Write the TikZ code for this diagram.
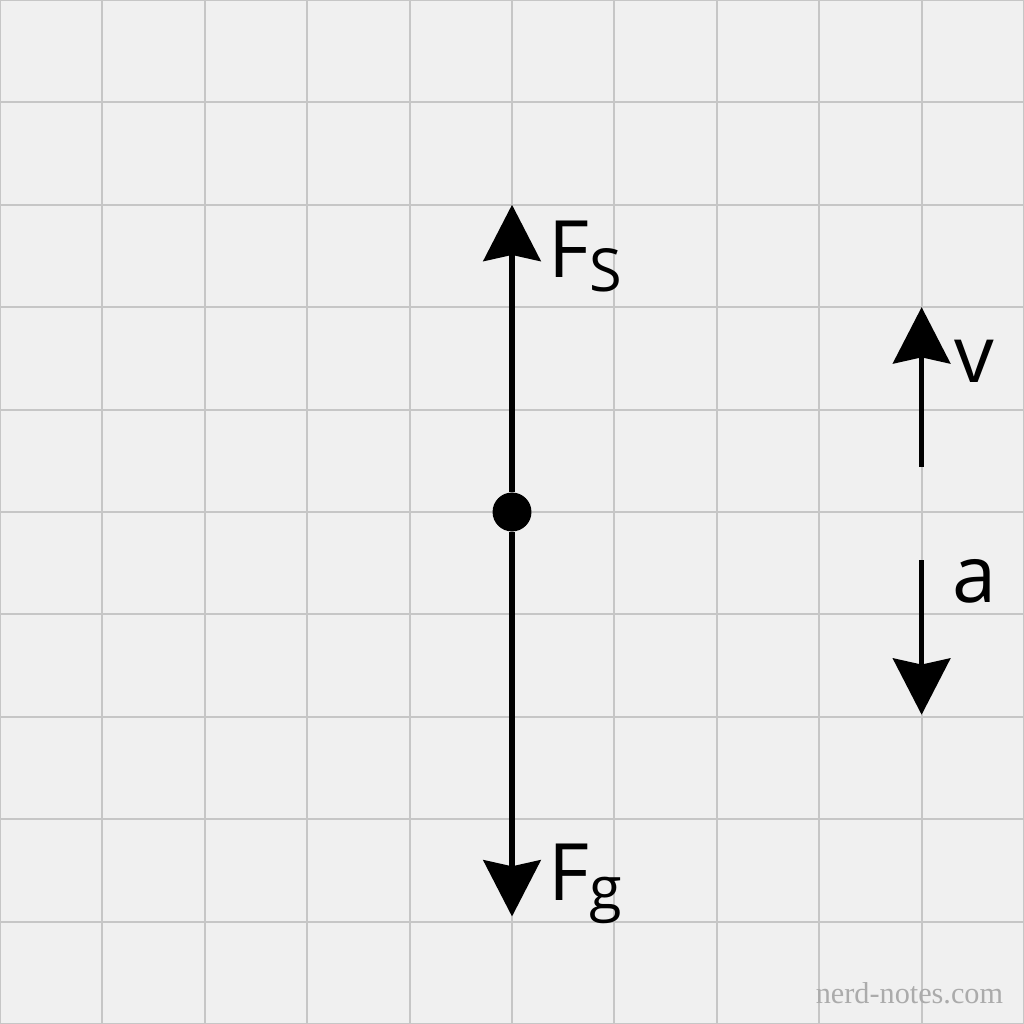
\documentclass[tikz,border=0pt]{standalone}
\usepackage{fontspec}
\setmainfont{Open Sans}
\newfontfamily\markfont{Liberation Serif}
\usetikzlibrary{arrows.meta}

\definecolor{paper}{HTML}{F0F0F0}
\definecolor{gridgray}{HTML}{C6C6C6}
\definecolor{markgray}{HTML}{ABABAB}

\begin{document}
\begin{tikzpicture}[
    force/.style={-{Stealth[length=5.5mm,width=5.6mm,inset=0.6mm]}, line width=1.4pt},
    lbl/.style={inner sep=0pt, anchor=base west, font=\fontsize{22}{22}\selectfont}]
  \useasboundingbox (0,0) rectangle (10,10);
  \fill[paper] (0,0) rectangle (10,10);
  \draw[gridgray, line width=0.6pt] (0,0) grid (10,10);

  % body and forces
  \node[circle, fill=black, minimum size=3.8mm, inner sep=0pt] (mass) at (5,5) {};
  \coordinate (fstip) at (5,8);
  \coordinate (fgtip) at (5,1.05);
  \draw[force] (mass) -- (fstip);
  \draw[force] (mass) -- (fgtip);
  \node[lbl] (fslabel) at (5.35,7.285) {F\raisebox{-3.8pt}{\fontsize{16.5}{16.5}\selectfont S}};
  \node[lbl] (fglabel) at (5.35,1.21) {F\raisebox{-2.5pt}{\fontsize{16.5}{16.5}\selectfont g}};

  % velocity and acceleration
  \coordinate (vtail) at (9,5.44);
  \coordinate (vtip) at (9,7.0);
  \coordinate (atail) at (9,4.53);
  \coordinate (atip) at (9,3.02);
  \draw[force] (vtail) -- (vtip);
  \draw[force] (atail) -- (atip);
  \node[lbl] (vlabel) at (9.31,6.26) {v};
  \node[lbl] (alabel) at (9.29,4.12) {a};

  \node[inner sep=0pt, anchor=base west, text=markgray, font=\markfont\fontsize{8.4}{8.4}\selectfont] (mark) at (7.96,0.2) {nerd-notes.com};
\end{tikzpicture}
\end{document}
